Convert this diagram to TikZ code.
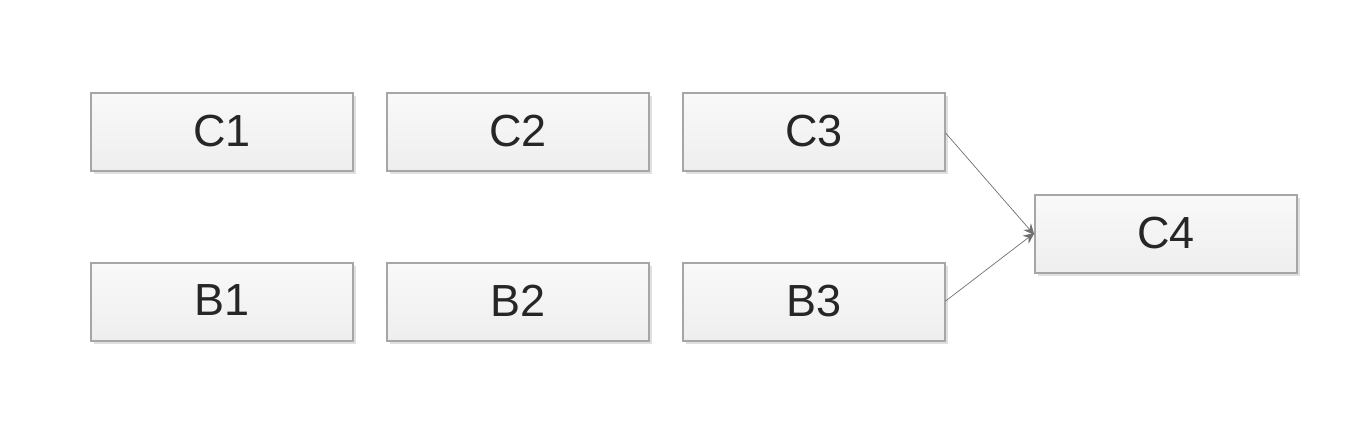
\documentclass[tikz,border=0pt]{standalone}
\usepackage{fontspec}
\setmainfont{Liberation Sans}
\usetikzlibrary{arrows.meta,shadows}
\definecolor{boxborder}{HTML}{A6A6A6}
\definecolor{boxtop}{HTML}{F9F9F9}
\definecolor{boxbot}{HTML}{EEEEEE}
\definecolor{txt}{HTML}{262626}
\definecolor{arr}{HTML}{707070}
\newcommand\boxlabel[1]{\raisebox{3pt}{#1}}
\tikzset{
  box/.style={draw=boxborder, line width=1.2pt, top color=boxtop, bottom color=boxbot,
    minimum width=262pt, minimum height=78pt, inner sep=0pt,
    font=\fontsize{45}{45}\selectfont, text=txt,
    drop shadow={shadow xshift=3pt, shadow yshift=-3pt, fill=black!12, opacity=1}},
  conn/.style={draw=arr, line width=0.7pt, -{Stealth[length=11pt,width=10pt]}}
}
\begin{document}
\begin{tikzpicture}[x=1pt,y=-1pt]
\useasboundingbox (0,0) rectangle (1366,438);
\fill[white] (0,0) rectangle (1366,438);
\node[box] (c1) at (222,132) {\boxlabel{C1}};
\node[box] (c2) at (518,132) {\boxlabel{C2}};
\node[box] (c3) at (814,132) {\boxlabel{C3}};
\node[box] (b1) at (222,302) {\boxlabel{B1}};
\node[box] (b2) at (518,302) {\boxlabel{B2}};
\node[box] (b3) at (814,302) {\boxlabel{B3}};
\node[box] (c4) at (1166,234) {\boxlabel{C4}};
\draw[conn] ([yshift=-1pt]c3.east) -- ([yshift=-1pt]c4.west);
\draw[conn] ([yshift=1pt]b3.east) -- ([yshift=1pt]c4.west);
\end{tikzpicture}
\end{document}
